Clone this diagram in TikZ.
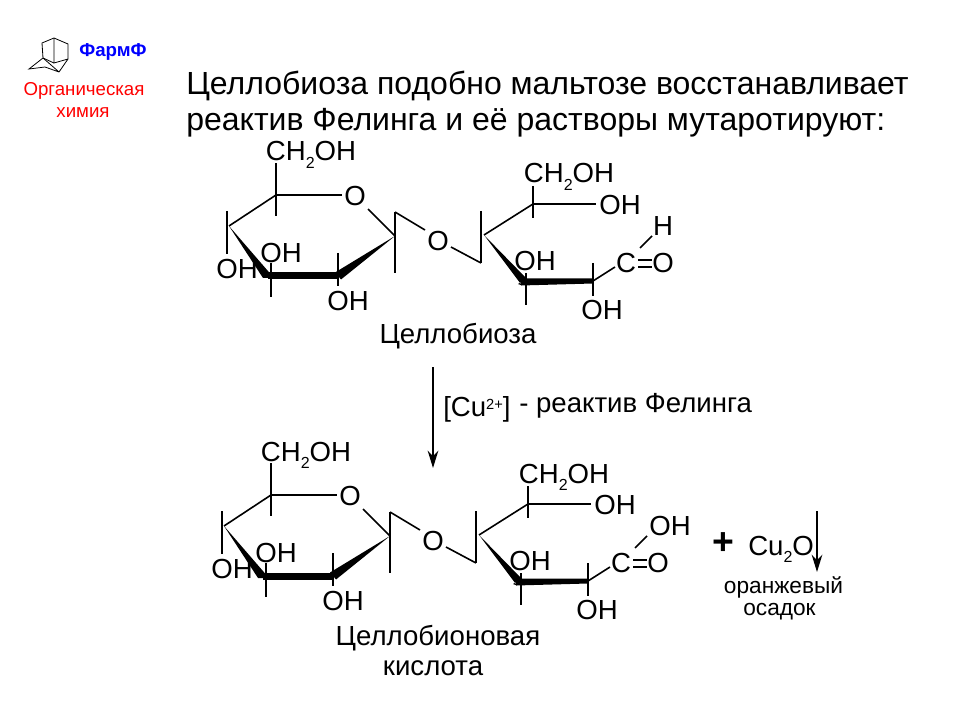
\documentclass[tikz,border=0pt]{standalone}
\usepackage{fontspec}
\setmainfont{Liberation Sans}
\usetikzlibrary{arrows.meta,calc}
\newcommand{\subtwo}{\raisebox{-5.5pt}{\fontsize{12}{13}\selectfont 2}}
\tikzset{
	atom/.style={inner sep=0pt, font=\fontsize{20.7}{22}\selectfont},
	caption/.style={inner sep=0pt, font=\fontsize{20.7}{22}\selectfont},
	bond/.style={line width=1.2pt},
	wedge/.style={fill=black, draw=none},
	react/.style={line width=1.2pt, -{Stealth[length=13pt, width=8pt]}}
}
% one disaccharide, #1 = shift, #2 = top right group
\def\sugar(#1)#2{
	\begin{scope}[shift={(#1)}]
		\coordinate (cfive) at (276,195);
		\coordinate (cone) at (395,236);
		\coordinate (cfour) at (229,226);
		\coordinate (cthree) at (270,276);
		\coordinate (ctwo) at (338,276);
		\coordinate (ctop) at (533,204);
		\coordinate (cleft) at (484,235);
		\coordinate (cbara) at (524,282);
		\coordinate (cbarb) at (593,281);
		
		\node[atom, anchor=base] (chtwo) at (311,161) {CH\subtwo OH};
		\node[atom] (oring) at (355,196) {O};
		\node[atom] (ofour) at (237,269) {OH};
		\node[atom] (othree) at (281,253) {OH};
		\node[atom] (otwo) at (348,301) {OH};
		\node[atom] (oglyc) at (438,241) {O};
		\node[atom, anchor=base] (chtwob) at (569,183) {CH\subtwo OH};
		\node[atom] (otop) at (620,205) {OH};
		\node[atom] (obar) at (535,261) {OH};
		\node[atom] (olow) at (602,310) {OH};
		\node[atom] (calde) at (626,263) {C};
		\node[atom] (oalde) at (663,263) {O};
		#2
		
		\fill[wedge] (cfour) -- ($(cthree)+(4,2)$) -- ($(cthree)+(-7,2)$) -- cycle;
		\fill[wedge] ($(cthree)+(-2,-3.5)$) rectangle ($(ctwo)+(1,3.5)$);
		\fill[wedge] (cone) -- ($(ctwo)+(3,3.5)$) -- ($(ctwo)+(-3,-3.5)$) -- cycle;
		\fill[wedge] (cleft) -- ($(cbara)+(-2,3.5)$) -- ($(cbara)+(-6,2)$) -- ($(cbara)+(3,-3)$) -- cycle;
		\fill[wedge] ($(cbara)+(-3,-3.5)$) -- ($(cbarb)+(0,-2.5)$) -- ($(cbarb)+(0,2.5)$) -- ($(cbara)+(-3,3.5)$) -- cycle;
		
		\draw[bond] (cfive) -- (276,163);
		\draw[bond] (cfive) -- (276,216);
		\draw[bond] (cfive) -- (342,195);
		\draw[bond] (cfive) -- (cfour);
		\draw[bond] (368,209) -- (cone);
		\draw[bond] (395,212) -- (395,273);
		\draw[bond] (395,212) -- (425,230);
		\draw[bond] (227,211) -- (227,254);
		\draw[bond] (271,263) -- (271,297);
		\draw[bond] (338,253) -- (338,286);
		
		\draw[bond] (451,247) -- (481,263);
		\draw[bond] (481,211) -- (481,263);
		\draw[bond] (cleft) -- (ctop);
		\draw[bond] (533,186) -- (533,218);
		\draw[bond] (ctop) -- (596,204);
		\draw[bond] (526,273) -- (526,305);
		\draw[bond] (593,263) -- (593,296);
		\draw[bond] (cbarb) -- (615,267);
		\draw[bond] (652,236) -- (640,248);
		\draw[bond] (638,260) -- (652,260);
		\draw[bond] (638,267) -- (652,267);
	\end{scope}
}

\begin{document}
\begin{tikzpicture}[x=0.75pt, y=-0.75pt]
	\useasboundingbox (0,0) rectangle (960,720);
	
	%%%%% LOGO %%%%%
	\draw[line width=0.6pt] (43,58) -- (42,43) -- (54,38) -- (68,44) -- (68,59) -- (59,72) -- (45,67) -- (29,69) -- (43,58) -- (59,72);
	\draw[line width=0.6pt] (54,38) -- (54,63) -- (68,59);
	\draw[line width=0.6pt] (43,58) -- (54,63);
	\node[inner sep=0pt, text=blue, font=\fontsize{14}{16}\bfseries\selectfont] (pharm) at (113,52) {ФармФ};
	\node[inner sep=0pt, text=red, font=\fontsize{14}{16}\selectfont] (orgone) at (84,91) {Органическая};
	\node[inner sep=0pt, text=red, font=\fontsize{14}{16}\selectfont] (orgtwo) at (83,113) {химия};
	
	%%%%% TITLE %%%%%
	\node[inner sep=0pt, anchor=base west, font=\fontsize{24}{26}\selectfont] (titleone) at (186,95) {Целлобиоза подобно мальтозе восстанавливает};
	\node[inner sep=0pt, anchor=base west, font=\fontsize{24}{26}\selectfont] (titletwo) at (186,131) {реактив Фелинга и её растворы мутаротируют:};
	
	%%%%% STRUCTURES %%%%%
	\sugar(0,0){\node[atom] (hald) at (663,226) {H};}
	\node[caption] (nameone) at (458,336) {Целлобиоза};
	
	\coordinate (arrowa) at (433,367);
	\coordinate (arrowb) at (433,468);
	\draw[react] (arrowa) -- (arrowb);
	\node[inner sep=0pt, anchor=base west, font=\fontsize{20.7}{22}\selectfont] (cat) at (443,416) {[Cu\raisebox{0.45ex}{\fontsize{11}{12}\selectfont 2+}]};
	\node[inner sep=0pt, anchor=base west, font=\fontsize{20.7}{22}\selectfont] (catname) at (519,412) {- реактив Фелинга};
	
	\sugar(-5,300){\node[atom] (ohald) at (675,226) {OH};}
	\node[caption] (nametwo) at (438,638) {Целлобионовая};
	\node[caption] (namethree) at (433,668) {кислота};
	
	%%%%% CU2O %%%%%
	\node[inner sep=0pt, font=\fontsize{28}{30}\bfseries\selectfont] (plus) at (723,544) {+};
	\node[atom, anchor=base west] (cuo) at (748,555) {Cu\subtwo O};
	\coordinate (arrowc) at (817,511);
	\coordinate (arrowd) at (817,572);
	\draw[react] (arrowc) -- (arrowd);
	\node[inner sep=0pt, font=\fontsize{17}{19}\selectfont] (orange) at (783.5,587) {оранжевый};
	\node[inner sep=0pt, font=\fontsize{17}{19}\selectfont] (sediment) at (779.5,612) {осадок};
\end{tikzpicture}
\end{document}
